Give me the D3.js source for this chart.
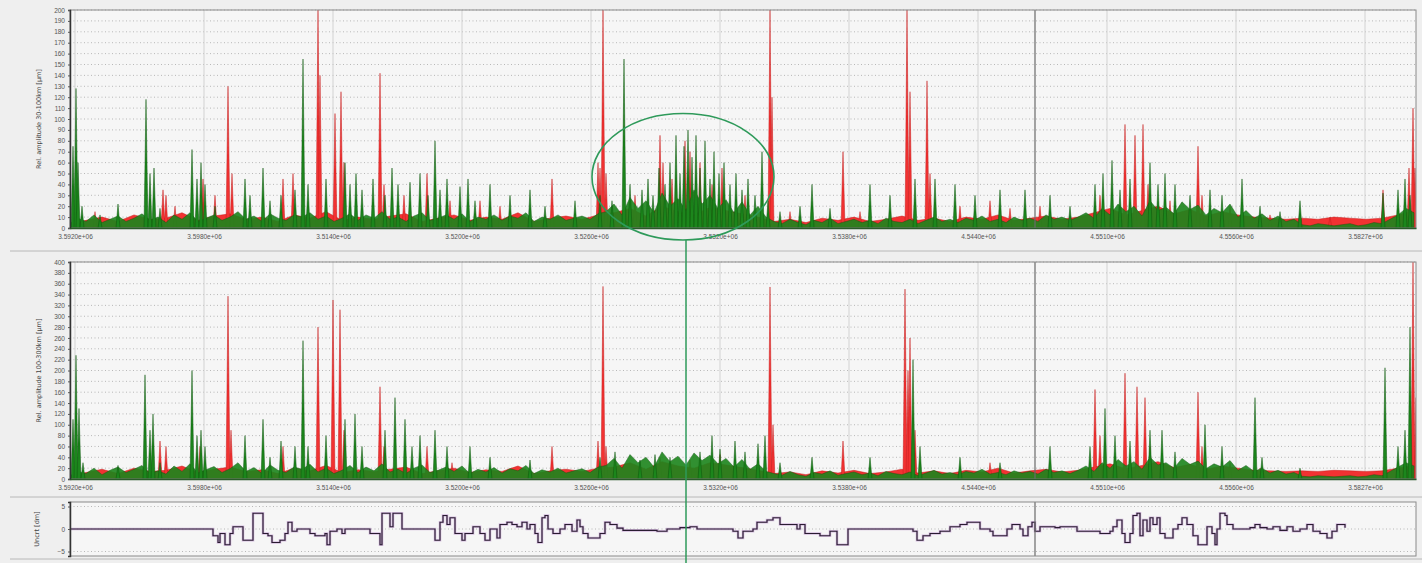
<!DOCTYPE html>
<html>
<head>
<meta charset="utf-8">
<script src="https://cdn.jsdelivr.net/npm/d3@7"></script>
<style>
  body { margin: 0; background: #efefef; font-family: "DejaVu Sans", sans-serif; }
  .tick text { font-size: 6.5px; fill: #555; }
</style>
</head>
<body>
<div id="chart"></div>
<script>
// ---- data (x = trace sample) ----
const xTickValues = [5, 134, 263, 392, 521, 650, 779, 908, 1037, 1166, 1295];
const xTickLabels = ["3.5920e+06", "3.5980e+06", "3.5140e+06", "3.5200e+06", "3.5260e+06", "3.5320e+06",
                     "3.5380e+06", "4.5440e+06", "4.5510e+06", "4.5560e+06", "3.5827e+06"];
const topYTicks = [0, 10, 20, 30, 40, 50, 60, 70, 80, 90, 100, 110, 120, 130, 140, 150, 160, 170, 180, 190, 200];
const midYTicks = [0, 20, 40, 60, 80, 100, 120, 140, 160, 180, 200, 220, 240, 260, 280, 300, 320, 340, 360, 380, 400];
const botYTicks = [-5, 0, 5];

// noise floor of each trace, one value per sample step
const greenStep = 8, redStep = 16;
const topGreenNoise = [4,9,6,12,5,8,11,6,9,13,7,10,5,12,8,14,6,9,12,7,10,15,8,11,6,13,9,7,12,10,14,8,11,6,9,13,7,12,
  9,15,8,10,6,11,14,7,9,12,8,13,6,10,8,12,7,11,9,14,6,10,8,12,7,9,11,8,13,
  15,22,12,28,18,25,14,32,20,27,16,35,22,30,18,26,14,24,12,20,10,
  6,4,8,5,3,7,5,9,4,6,8,5,7,4,9,6,5,8,4,7,10,6,8,5,9,7,11,6,8,5,10,7,9,6,12,8,10,7,
  10,14,9,18,12,22,15,20,11,25,16,19,13,24,17,21,12,18,14,22,10,16,9,13,7,11,6,8,
  3,2,4,3,2,3,4,2,3,5,4,8,12,18,14];
const topRedNoise = [3,7,10,6,12,8,9,14,7,11,13,8,10,6,12,9,15,7,10,8,11,13,6,9,12,7,10,8,14,6,9,11,8,12,
  14,18,11,20,15,12,19,16,13,10,
  6,8,5,9,7,10,6,8,11,7,9,6,10,8,12,7,9,11,8,
  10,14,18,12,16,20,13,17,11,15,12,10,9,8,
  9,8,10,9,8,9,12,16];
const midGreenNoise = [6,14,10,20,8,16,22,12,18,25,10,15,9,24,14,28,11,17,23,12,19,30,14,21,10,26,16,12,22,18,27,13,
  20,10,16,25,12,22,15,28,13,18,10,20,26,12,16,22,14,24,10,18,13,21,11,19,15,25,10,17,13,20,11,15,19,12,22,
  25,38,20,45,30,40,22,50,32,42,26,48,34,44,28,38,22,36,18,28,14,
  10,7,14,8,5,12,9,15,7,10,13,8,11,6,14,10,8,13,6,11,16,9,12,8,14,11,18,9,12,8,15,11,14,9,18,12,15,10,
  16,24,14,30,20,36,24,32,18,40,26,30,20,38,27,33,19,28,22,34,16,25,14,20,11,16,9,12,
  5,4,6,5,4,5,6,4,5,8,6,14,22,30,24];
const midRedNoise = [5,12,18,10,20,14,16,24,12,18,22,14,17,10,20,15,25,12,17,14,18,22,10,15,20,12,17,14,24,10,15,18,14,20,
  22,30,18,32,24,20,30,26,21,16,
  10,13,8,15,11,16,10,13,18,11,15,10,16,13,20,11,15,18,13,
  16,22,28,19,25,32,21,27,18,24,20,16,15,14,
  15,14,16,15,14,15,20,26];

// spikes [x, peak]
const topGreenSpikes = [[3,75],[6,128],[8,60],[12,20],[30,12],[48,22],[76,118],[80,50],[84,55],[90,18],[122,72],
  [127,45],[131,60],[135,40],[145,20],[175,45],[180,30],[193,55],[200,25],[211,30],[225,35],[233,155],[238,40],
  [256,45],[275,60],[280,40],[286,50],[292,35],[303,45],[315,30],[322,55],[328,40],[340,42],[350,50],[358,30],
  [365,80],[370,35],[377,45],[390,38],[398,45],[405,25],[420,40],[440,30],[460,35],[475,20],[505,25],[530,30],
  [542,25],[554,155],[560,40],[572,35],[578,45],[583,30],[589,55],[595,40],[600,60],[606,85],[610,50],[614,75],
  [618,90],[622,65],[626,85],[630,55],[635,80],[640,45],[644,70],[649,50],[654,60],[660,40],[666,50],[672,35],
  [678,45],[685,30],[692,70],[698,25],[710,15],[730,20],[742,40],[760,18],[800,40],[820,30],[845,45],[865,45],
  [885,40],[905,30],[930,35],[955,35],[980,30],[1000,20],[1025,40],[1033,50],[1042,62],[1050,35],[1060,45],
  [1080,60],[1088,40],[1095,50],[1105,40],[1120,30],[1140,35],[1152,30],[1172,45],[1190,20],[1210,15],[1230,25],
  [1313,32],[1328,35],[1335,45],[1340,30]];
const topRedSpikes = [[25,15],[93,35],[96,30],[105,20],[133,45],[145,30],[158,130],[162,50],[213,45],[223,50],
  [248,200],[250,140],[265,105],[271,125],[274,60],[310,142],[314,40],[334,30],[357,50],[380,25],[410,25],[430,20],
  [482,45],[528,60],[530,55],[533,200],[536,50],[565,30],[590,85],[593,60],[602,45],[615,80],[620,70],[630,60],
  [642,40],[652,55],[675,30],[700,200],[702,120],[720,15],[773,70],[790,15],[837,200],[840,125],[857,135],[860,50],
  [890,20],[920,25],[940,18],[970,20],[1030,30],[1055,95],[1065,85],[1073,95],[1078,40],[1100,25],[1128,75],
  [1132,30],[1160,20],[1200,12],[1260,10],[1313,35],[1339,55],[1343,110],[1345,55]];
const midGreenSpikes = [[3,110],[6,228],[9,130],[13,30],[48,25],[75,192],[80,90],[83,120],[90,30],[122,200],
  [127,80],[131,90],[135,60],[175,80],[193,110],[200,40],[211,70],[225,60],[233,255],[238,60],[256,80],[275,110],
  [285,120],[292,60],[315,90],[325,150],[335,110],[342,60],[350,80],[365,90],[377,60],[400,60],[420,40],[460,35],
  [530,40],[545,50],[570,35],[585,45],[600,40],[630,50],[642,80],[650,55],[665,70],[675,50],[688,65],[695,80],
  [710,30],[742,40],[800,40],[843,220],[850,60],[890,40],[930,30],[980,60],[1020,60],[1035,130],[1045,80],
  [1060,70],[1080,90],[1092,90],[1105,50],[1135,100],[1152,60],[1185,150],[1192,40],[1230,20],[1315,205],
  [1328,60],[1335,90],[1340,280]];
const midRedSpikes = [[90,70],[96,60],[130,60],[158,337],[161,90],[213,60],[248,280],[263,330],[270,312],[274,90],
  [310,170],[314,60],[357,60],[382,30],[482,60],[528,70],[533,355],[536,60],[590,40],[620,35],[650,45],[700,354],
  [703,100],[773,70],[835,350],[838,200],[840,260],[845,90],[920,30],[1025,165],[1030,80],[1055,195],[1067,170],
  [1075,150],[1080,60],[1128,160],[1132,60],[1160,30],[1190,20],[1343,400],[1346,150]];

// shift / uncertainty trace (step)
const uncert = [[0,0],[135,0],[143,-1.5],[148,-3],[150,-1],[155,-3.5],[160,-1],[163,0.5],[173,-2.5],[183,3.5],[193,-1],
  [198,-1.5],[202,-3],[210,-2.5],[215,-1],[218,1.5],[222,-0.5],[227,0],[240,-1],[245,-1.5],[255,-1],[257,-3.5],
  [260,-0.5],[267,0],[272,-1],[275,0],[297,0],[300,-1],[310,-3.5],[312,3.5],[320,0.5],[323,3.5],[332,0],[363,0],
  [365,-2.5],[370,1.5],[373,3],[377,1],[380,2.5],[385,-1],[392,-2.5],[395,-1],[403,0.5],[410,-1],[415,-2.5],[420,0],
  [427,-2],[430,1],[437,1.5],[442,1],[447,0.5],[452,1.5],[457,0],[460,1],[465,-1],[468,-3],[472,2.5],[475,3],[478,0],
  [483,-1],[490,0],[495,1],[502,-0.5],[507,2],[510,0.5],[513,-1],[518,-2],[530,-1],[535,1.5],[540,1],[547,0.2],
  [553,-0.3],[587,-0.5],[597,0],[610,0.3],[620,0.5],[627,0],[657,0],[663,-0.5],[668,-2],[673,-0.5],[683,0],[687,1.5],
  [697,2],[703,2.5],[710,1],[720,1],[727,0],[730,1],[735,-1],[750,-1.5],[760,-0.5],[767,-3.5],[778,0],[833,0],
  [843,-0.5],[847,-2.5],[853,-1.5],[860,-1],[870,-0.5],[880,0.5],[890,1],[897,1.5],[910,0],[920,-0.5],[923,-1.5],
  [937,0],[942,1],[950,0],[953,-1.5],[958,0.5],[962,1.5],[965,-0.5],[970,0.5],[985,0.3],[990,0.5],[1007,-0.5],
  [1030,-1],[1040,-0.5],[1043,0.5],[1047,2],[1052,-1],[1055,-3],[1060,-1],[1063,3],[1067,3.5],[1070,-1.5],[1073,2],
  [1077,-0.5],[1080,2.5],[1083,1],[1087,2.5],[1090,-1],[1095,-2],[1103,0],[1108,1],[1112,2.5],[1117,1],[1123,-1.5],
  [1128,-3.5],[1137,0.5],[1142,-1],[1145,-3.5],[1147,0],[1150,3.5],[1155,3],[1157,1],[1163,0],[1180,0.3],[1185,1],
  [1190,0.3],[1197,0],[1203,0.5],[1210,-0.3],[1217,0.5],[1223,-0.5],[1230,0],[1237,1],[1243,-0.5],[1250,-1],
  [1257,-2],[1262,-0.5],[1267,1],[1275,0.3]];

const cursorX = 616;   // green cursor
const markerX = 965;   // dark marker line
const ellipseBox = { x0: 522, x1: 704, v0: -11, v1: 105 };

// ---- layout ----
const W = 1422, H = 563;
const x = d3.scaleLinear().domain([0, 1346]).range([70, 1416]);

const svg = d3.select("#chart").append("svg")
    .attr("width", W)
    .attr("height", H);

svg.append("rect").attr("width", W).attr("height", H).attr("fill", "#efefef");

// panel separators
[251, 497, 559].forEach(yy => {
    svg.append("line").attr("x1", 10).attr("x2", W).attr("y1", yy).attr("y2", yy)
        .attr("stroke", "#b8b8b8").attr("stroke-width", 1);
});

const GREEN = "#1c861c", GREEN_DARK = "#0c560c";
const RED = "#f23232", RED_DARK = "#c41c1c";

const withX = (values, step) => values.map((v, i) => [i * step, v]);

function drawPanel(cfg) {
    const y = d3.scaleLinear().domain(cfg.domain).range(cfg.range);
    const g = svg.append("g");
    const top = cfg.range[1], bottom = cfg.range[0];

    g.append("rect")
        .attr("x", x(0)).attr("y", top)
        .attr("width", x(1346) - x(0)).attr("height", bottom - top)
        .attr("fill", "#f6f6f6");

    // horizontal dotted grid
    g.append("g")
        .selectAll("line")
        .data(cfg.yTicks)
        .enter().append("line")
        .attr("x1", x(0)).attr("x2", x(1346))
        .attr("y1", d => y(d)).attr("y2", d => y(d))
        .attr("stroke", "#a8a8a8")
        .attr("stroke-width", 0.8)
        .attr("stroke-dasharray", "1,2.5");

    // vertical grid
    if (cfg.xGrid) {
        g.append("g")
            .selectAll("line")
            .data(xTickValues)
            .enter().append("line")
            .attr("x1", d => x(d)).attr("x2", d => x(d))
            .attr("y1", top).attr("y2", bottom)
            .attr("stroke", "#d2d2d2")
            .attr("stroke-width", 1);
    }

    const area = d3.area().x(d => x(d[0])).y0(y(0)).y1(d => y(d[1]));
    const clipId = "clip" + cfg.name;
    svg.append("clipPath").attr("id", clipId).append("rect")
        .attr("x", x(0)).attr("y", top).attr("width", x(1346) - x(0)).attr("height", bottom - top);
    const marks = g.append("g").attr("clip-path", `url(#${clipId})`);

    if (cfg.redNoise) {
        const spike = (color, stroke) => (sel) => sel
            .attr("d", d => area([[d[0] - 2, 0], [d[0], d[1]], [d[0] + 2, 0]]))
            .attr("fill", color).attr("stroke", stroke).attr("stroke-width", 0.5);

        marks.append("path").datum(withX(cfg.redNoise, redStep))
            .attr("d", area).attr("fill", RED).attr("stroke", RED_DARK).attr("stroke-width", 0.5);
        marks.selectAll(".red-spike").data(cfg.redSpikes).enter()
            .append("path").attr("class", "red-spike").call(spike(RED, RED_DARK));

        marks.append("path").datum(withX(cfg.greenNoise, greenStep))
            .attr("d", area).attr("fill", GREEN).attr("stroke", GREEN_DARK).attr("stroke-width", 0.5)
            .attr("opacity", 0.9);
        marks.selectAll(".green-spike").data(cfg.greenSpikes).enter()
            .append("path").attr("class", "green-spike").call(spike(GREEN, GREEN_DARK));
    }

    if (cfg.step) {
        const line = d3.line().x(d => x(d[0])).y(d => y(d[1])).curve(d3.curveStepAfter);
        marks.append("path").datum(cfg.step)
            .attr("d", line).attr("fill", "none")
            .attr("stroke", "#c8a4d4").attr("stroke-width", 2.6).attr("opacity", 0.7);
        marks.append("path").datum(cfg.step)
            .attr("d", line).attr("fill", "none")
            .attr("stroke", "#2a1c32").attr("stroke-width", 1.2);
    }

    // marker line
    g.append("line")
        .attr("x1", x(markerX)).attr("x2", x(markerX))
        .attr("y1", top).attr("y2", bottom)
        .attr("stroke", "#6a6a6a").attr("stroke-width", 1.2);

    // frame
    g.append("rect")
        .attr("x", x(0)).attr("y", top)
        .attr("width", x(1346) - x(0)).attr("height", bottom - top)
        .attr("fill", "none").attr("stroke", "#8a8a8a").attr("stroke-width", 1);

    // left axis
    const yAxis = g.append("g")
        .attr("transform", `translate(${x(0)},0)`)
        .call(d3.axisLeft(y).tickValues(cfg.yTicks).tickSize(2).tickPadding(3));
    yAxis.select(".domain").attr("stroke", "#333").attr("stroke-width", 1.5);
    yAxis.selectAll(".tick line").attr("stroke", "#555");

    // bottom axis
    if (cfg.xLabels) {
        const xAxis = g.append("g")
            .attr("transform", `translate(0,${bottom})`)
            .call(d3.axisBottom(x).tickValues(xTickValues).tickFormat((d, i) => xTickLabels[i]).tickSize(0).tickPadding(6));
        xAxis.select(".domain").attr("stroke", "#2a5a2a").attr("stroke-width", 1.5);
    }

    // y title
    g.append("text")
        .attr("transform", `translate(${cfg.titleX},${(top + bottom) / 2}) rotate(-90)`)
        .attr("text-anchor", "middle")
        .style("font-size", "6.5px")
        .style("fill", "#444")
        .text(cfg.title);

    return y;
}

const yTop = drawPanel({
    name: "top", domain: [0, 200], range: [228, 10], yTicks: topYTicks, xGrid: true, xLabels: true,
    redNoise: topRedNoise, greenNoise: topGreenNoise, redSpikes: topRedSpikes, greenSpikes: topGreenSpikes,
    title: "Rel. amplitude 30-100km [µm]", titleX: 41
});

drawPanel({
    name: "mid", domain: [0, 400], range: [479, 262], yTicks: midYTicks, xGrid: true, xLabels: true,
    redNoise: midRedNoise, greenNoise: midGreenNoise, redSpikes: midRedSpikes, greenSpikes: midGreenSpikes,
    title: "Rel. amplitude 100-300km [µm]", titleX: 41
});

drawPanel({
    name: "bot", domain: [-6, 6], range: [556, 502], yTicks: botYTicks, xGrid: false, xLabels: false,
    step: uncert, title: "Uncrt [dm]", titleX: 39
});

// highlight ellipse
svg.append("ellipse")
    .attr("cx", (x(ellipseBox.x0) + x(ellipseBox.x1)) / 2)
    .attr("cy", (yTop(ellipseBox.v0) + yTop(ellipseBox.v1)) / 2)
    .attr("rx", (x(ellipseBox.x1) - x(ellipseBox.x0)) / 2)
    .attr("ry", (yTop(ellipseBox.v0) - yTop(ellipseBox.v1)) / 2)
    .attr("fill", "none")
    .attr("stroke", "#2e9a5a")
    .attr("stroke-width", 1.6);

// green cursor
svg.append("line")
    .attr("x1", x(cursorX)).attr("x2", x(cursorX))
    .attr("y1", yTop(ellipseBox.v0)).attr("y2", H)
    .attr("stroke", "#2e9a5a")
    .attr("stroke-width", 1.5);
</script>
</body>
</html>
